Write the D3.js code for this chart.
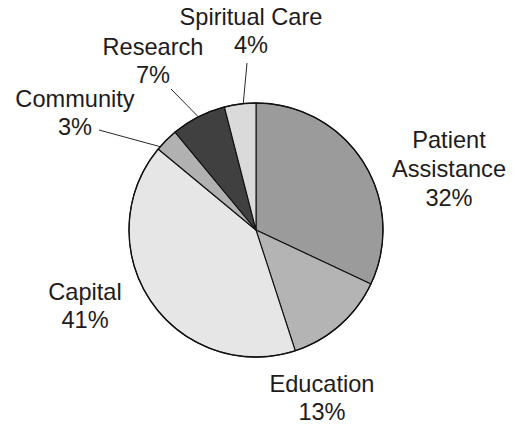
<!DOCTYPE html>
<html>
<head>
<meta charset="utf-8">
<script src="https://cdn.jsdelivr.net/npm/d3@7"></script>
<style>
    html, body { margin: 0; padding: 0; background: #fff; }
    svg text { font-family: "Liberation Sans", Arial, sans-serif; font-size: 23.6px; fill: #1e1b1c; }
</style>
</head>
<body>
<svg id="chart" width="518" height="428"></svg>
<script>
// Data
const categories = ["Patient Assistance", "Education", "Capital", "Community", "Research", "Spiritual Care"];
const shares = [32, 13, 41, 3, 7, 4];
const fills = ["#9b9b9b", "#b4b4b4", "#e6e6e6", "#b1b1b1", "#404040", "#dadada"];

// label block centres relative to pie centre, plus leader lines where there is one
const labelLines = [["Patient", "Assistance"], ["Education"], ["Capital"], ["Community"], ["Research"], ["Spiritual Care"]];
const labelOffset = [[193, -61], [66, 168], [-171, 76], [-181, -117], [-103, -169], [-5, -199]];
const leaderEnd = [null, null, null, [-157, -100], [-85, -141], [-9, -167]];
const leaderAt = [null, null, null, 0.13, 0.5, 0.6];

const width = 518, height = 428;
const cx = 256, cy = 230, radius = 127;
const lineHeight = 28.7;

const svg = d3.select("#chart");
const g = svg.append("g").attr("transform", `translate(${cx},${cy})`);

const pie = d3.pie().sort(null).value(d => d)(shares);
const arc = d3.arc().innerRadius(0).outerRadius(radius);

g.selectAll("path.slice")
    .data(pie)
    .enter()
    .append("path")
    .attr("class", "slice")
    .attr("d", arc)
    .attr("fill", (d, i) => fills[i])
    .attr("stroke", "#111")
    .attr("stroke-width", 1.1)
    .attr("stroke-linejoin", "round");

// outer rim a little heavier
g.append("circle")
    .attr("r", radius)
    .attr("fill", "none")
    .attr("stroke", "#111")
    .attr("stroke-width", 1.3);

// leader lines
pie.forEach((d, i) => {
    if (!leaderEnd[i]) return;
    let a = d.startAngle + (d.endAngle - d.startAngle) * leaderAt[i];
    let x0 = Math.sin(a) * radius, y0 = -Math.cos(a) * radius;
    g.append("line")
        .attr("x1", x0).attr("y1", y0)
        .attr("x2", leaderEnd[i][0]).attr("y2", leaderEnd[i][1])
        .attr("stroke", "#111")
        .attr("stroke-width", 0.9);
});

// labels
pie.forEach((d, i) => {
    let lines = labelLines[i].concat([shares[i] + "%"]);
    let [ox, oy] = labelOffset[i];
    let firstBase = oy - (lines.length - 1) * lineHeight / 2 + 8;
    let t = g.append("text")
        .attr("text-anchor", "middle")
        .attr("x", ox)
        .attr("y", firstBase);
    lines.forEach((s, k) => {
        t.append("tspan")
            .attr("x", ox)
            .attr("y", firstBase + k * lineHeight)
            .text(s);
    });
});
</script>
</body>
</html>
